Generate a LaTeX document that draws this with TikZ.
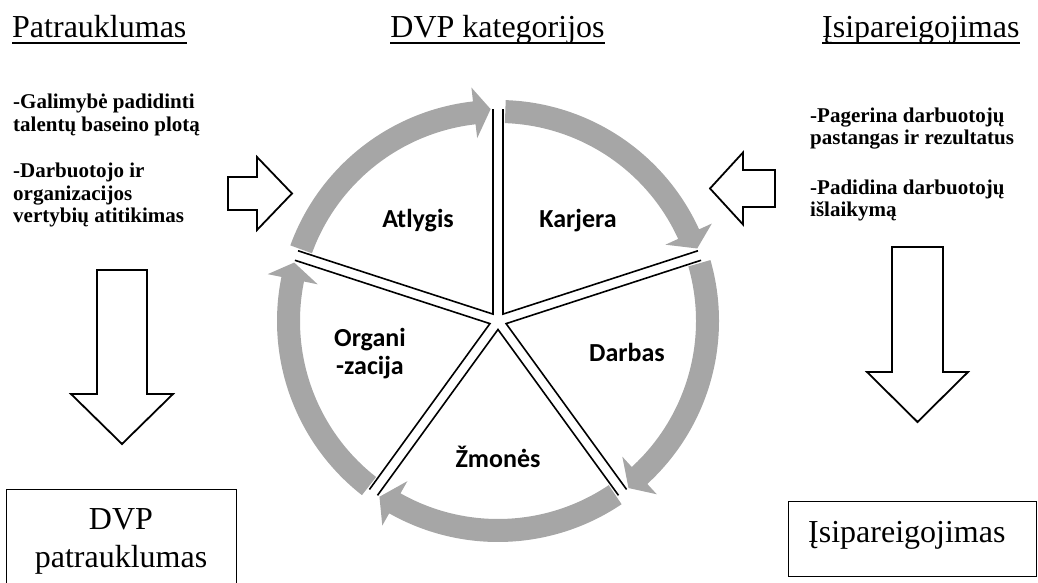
\documentclass[tikz,border=0pt]{standalone}
\usepackage{fontspec}
\setmainfont{Liberation Serif}
\newfontfamily\labelfont{Carlito}
\definecolor{ringgray}{RGB}{166,166,166}

\begin{document}
\begin{tikzpicture}[x=1pt, y=1pt,
  heading/.style={inner sep=0, font=\fontsize{32}{38}\selectfont},
  bullets/.style={inner sep=0, align=left, font=\fontsize{21}{22.5}\selectfont\bfseries},
  sector/.style={inner sep=0, align=center, font=\labelfont\bfseries\fontsize{26}{28}\selectfont},
  block/.style={draw, line width=1.8, line join=miter},
  spoke/.style={line width=1.6},
  frame/.style={draw, line width=1, inner sep=0}]
  \useasboundingbox (0,0) rectangle (1038,583);

  % headings
  \node[heading, anchor=base west] (patr) at (12,545) {Patrauklumas};
  \node[heading, anchor=base] (kat) at (497.5,545) {DVP kategorijos};
  \node[heading, anchor=base west] (isip) at (822,545) {Įsipareigojimas};
  \foreach \h in {patr, kat, isip}
    \draw[line width=1.3] ([yshift=-5]\h.base west) -- ([yshift=-5]\h.base east);

  % side texts (base = last line)
  \node[bullets, anchor=base west] (patrtxt) at (13,360)
    {-Galimybė padidinti\\talentų baseino plotą\\[24pt]-Darbuotojo ir\\organizacijos\\vertybių atitikimas};
  \node[bullets, anchor=base west] (isiptxt) at (810,366)
    {-Pagerina darbuotojų\\pastangas ir rezultatus\\[27pt]-Padidina darbuotojų\\išlaikymą};

  % block arrows
  \draw[block] (228,406) -- (257,406) -- (257,426) -- (292,389.5) -- (257,353)
    -- (257,373) -- (228,373) -- cycle;
  \draw[block] (775,413) -- (743,413) -- (743,430.5) -- (710,394.5) -- (743,358.5)
    -- (743,376) -- (775,376) -- cycle;
  \draw[block] (97,313) -- (147,313) -- (147,189) -- (173,189) -- (122,139)
    -- (71,189) -- (97,189) -- cycle;
  \draw[block] (892,336) -- (943,336) -- (943,211) -- (968,211) -- (917.5,161)
    -- (867,211) -- (892,211) -- cycle;

  % circle of categories
  \coordinate (c) at (498,262);
  \begin{scope}[shift={(c)}]
    \foreach \a in {90,18,-54,-126,162} {
      \pgfmathsetmacro\b{\a-72}
      \fill[ringgray] (\a-2:198pt) arc[start angle=\a-2, end angle=\b+6.5, radius=198pt]
        -- (\b+6.5:184pt) -- (\b+2:212pt) -- (\b+6.5:235pt) -- (\b+6.5:221pt)
        arc[start angle=\b+6.5, end angle=\a-2, radius=221pt] -- cycle;
    }
    \foreach \m in {126,54,-18,-90,198}
      \draw[spoke] (\m:8.5pt) ++(\m+36:205pt) -- (\m:8.5pt) -- ++(\m-36:205pt);
  \end{scope}

  \node[sector, anchor=base] (atlygis) at (418,355) {Atlygis};
  \node[sector, anchor=base] (karjera) at (578,355) {Karjera};
  \node[sector, anchor=base] (darbas) at (627,221) {Darbas};
  \node[sector, anchor=base] (zmones) at (498,115) {Žmonės};
  \node[sector, anchor=base] (organizacija) at (370,208) {Organi\\-zacija};

  % result boxes
  \node[frame, minimum width=230, minimum height=100] (patrbox) at (121,43) {};
  \node[heading, align=center, anchor=base] (patrboxtxt) at (121,15) {DVP\\patrauklumas};
  \node[frame, minimum width=248.5, minimum height=75] (isipbox) at (912.25,43.5) {};
  \node[heading, anchor=base west] (isipboxtxt) at (808,40) {Įsipareigojimas};
\end{tikzpicture}
\end{document}
